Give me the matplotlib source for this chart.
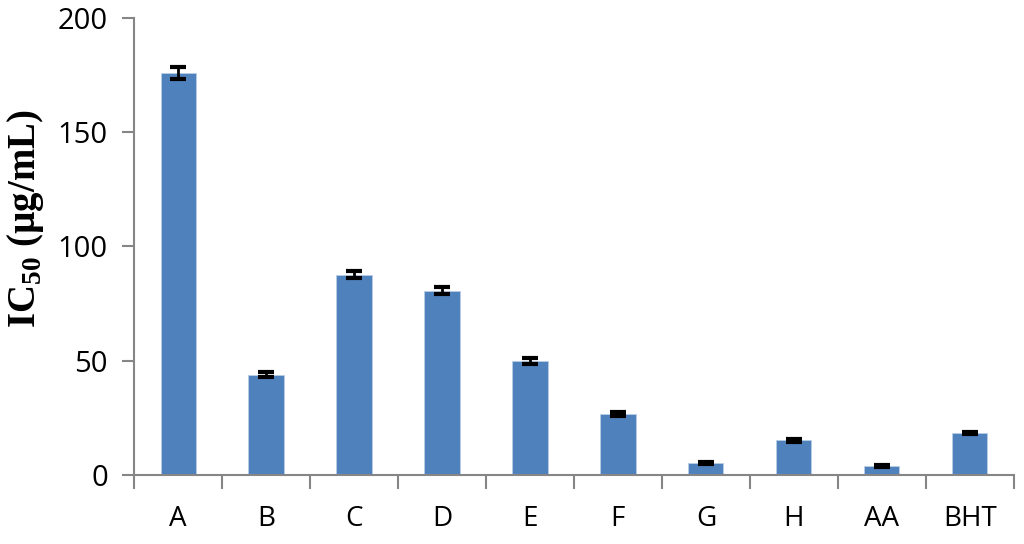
import numpy as np
import matplotlib.pyplot as plt

plt.rcParams['mathtext.fontset'] = 'custom'
plt.rcParams['mathtext.rm'] = 'Liberation Serif:bold'
plt.rcParams['mathtext.bf'] = 'Liberation Serif:bold'

# IC50 values
labels = ['A', 'B', 'C', 'D', 'E', 'F', 'G', 'H', 'AA', 'BHT']
ic50 = [175.8, 43.9, 87.6, 80.7, 49.8, 26.6, 5.1, 15.2, 3.9, 18.4]
err = [2.6, 1.2, 1.5, 1.4, 1.2, 0.8, 0.5, 0.6, 0.4, 0.6]

fig = plt.figure(figsize=(10.24, 5.44), dpi=100)
ax = fig.add_axes([0.131, 0.127, 0.859, 0.84])

x = np.arange(len(labels))
ax.bar(x, ic50, width=0.4, color='#4F81BD', edgecolor='#B9CDE5', linewidth=0.6,
       yerr=err, error_kw=dict(ecolor='black', elinewidth=2, capsize=5.5, capthick=3))

ax.set_xlim(-0.5, len(labels) - 0.5)
ax.set_ylim(0, 200)
ax.set_yticks([0, 50, 100, 150, 200])

for s in ['top', 'right']:
    ax.spines[s].set_visible(False)
for s in ['left', 'bottom']:
    ax.spines[s].set_color('#868686')
    ax.spines[s].set_linewidth(1.5)

# category ticks sit between bars
ax.set_xticks(np.arange(len(labels) + 1) - 0.5)
ax.set_xticklabels([])
ax.set_xticks(x, minor=True)
ax.set_xticklabels(labels, minor=True, fontsize=20, fontfamily='Open Sans')
ax.tick_params(axis='x', which='major', length=10, width=1.5, color='#868686', direction='out')
ax.tick_params(axis='x', which='minor', length=0, pad=22)
ax.tick_params(axis='y', length=9, width=1.5, color='#868686', direction='out', pad=10)
for t in ax.get_yticklabels():
    t.set_fontsize(21)
    t.set_fontfamily('Open Sans')

ax.set_ylabel(r'IC$_{50}$ (µg/mL)', fontsize=28, fontweight='bold',
              fontfamily='Liberation Serif')
ax.yaxis.set_label_coords(-0.1, 0.56)

plt.savefig('out.png', dpi=100)
